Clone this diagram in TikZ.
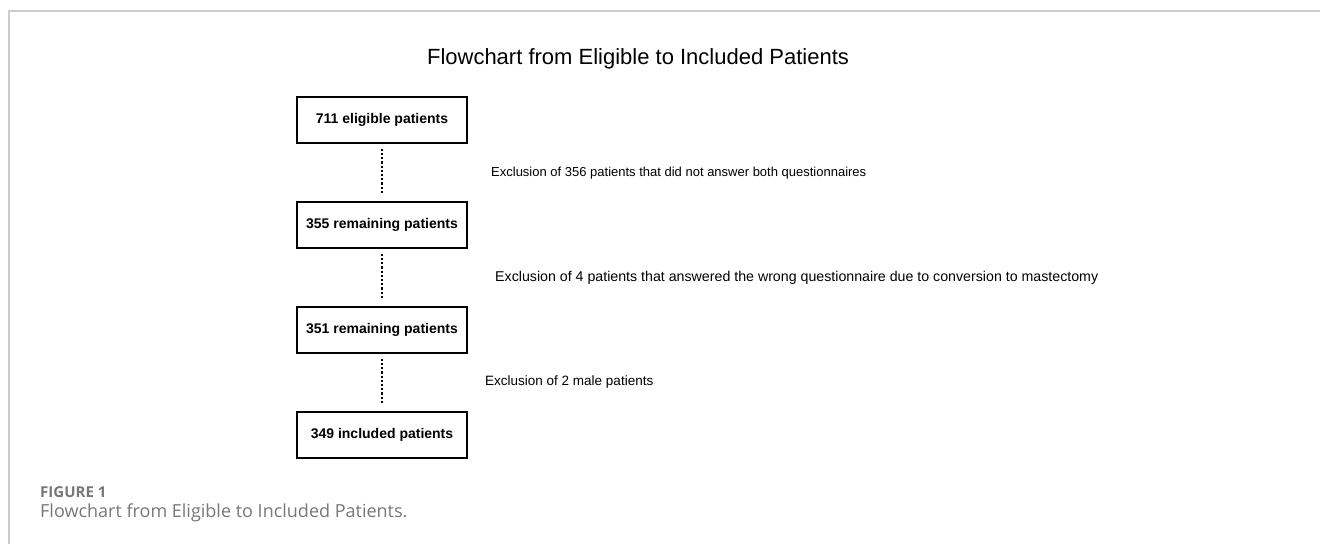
\documentclass[tikz,border=0pt]{standalone}
\usepackage{fontspec}
\setmainfont{Liberation Sans}
\newfontfamily\capfont{Open Sans}
\definecolor{framegray}{HTML}{CCCCCC}
\definecolor{capgray}{HTML}{777777}
\begin{document}
\begin{tikzpicture}[x=1pt,y=-1pt,
  stagebox/.style={draw=black,line width=1.7pt,minimum width=170pt,minimum height=46pt,inner sep=0pt,font=\fontsize{14}{16}\selectfont\bfseries},
  exclabel/.style={anchor=west,inner sep=0pt,font=\fontsize{13}{15}\selectfont},
  dotline/.style={line width=1.3pt,dash pattern=on 2.2pt off 2pt}
]
\useasboundingbox (0,0) rectangle (1320,544);
\draw[framegray,line width=1.2pt] (9,544) -- (9,11) -- (1320,11);
\node[anchor=base,inner sep=0pt,font=\fontsize{22}{26}\selectfont] (title) at (638,64) {Flowchart from Eligible to Included Patients};
\node[stagebox] (b1) at (382,120) {711 eligible patients};
\node[stagebox] (b2) at (382,225) {355 remaining patients};
\node[stagebox] (b3) at (382,330) {351 remaining patients};
\node[stagebox] (b4) at (382,435) {349 included patients};
\draw[dotline] ([yshift=-5pt]b1.south) -- ([yshift=7pt]b2.north);
\draw[dotline] ([yshift=-5pt]b2.south) -- ([yshift=7pt]b3.north);
\draw[dotline] ([yshift=-5pt]b3.south) -- ([yshift=7pt]b4.north);
\node[exclabel] (e1) at (491,173) {Exclusion of 356 patients that did not answer both questionnaires};
\node[exclabel,font=\fontsize{14.2}{16}\selectfont] (e2) at (495,278) {Exclusion of 4 patients that answered the wrong questionnaire due to conversion to mastectomy};
\node[exclabel,font=\fontsize{13.5}{15}\selectfont] (e3) at (485,382) {Exclusion of 2 male patients};
\node[anchor=base west,inner sep=0pt,text=capgray,font=\capfont\bfseries\fontsize{15}{17}\selectfont] (fig) at (40,497) {FIGURE 1};
\node[anchor=base west,inner sep=0pt,text=capgray,font=\capfont\fontsize{18}{21}\selectfont] (cap) at (40,517) {Flowchart from Eligible to Included Patients.};
\end{tikzpicture}
\end{document}
